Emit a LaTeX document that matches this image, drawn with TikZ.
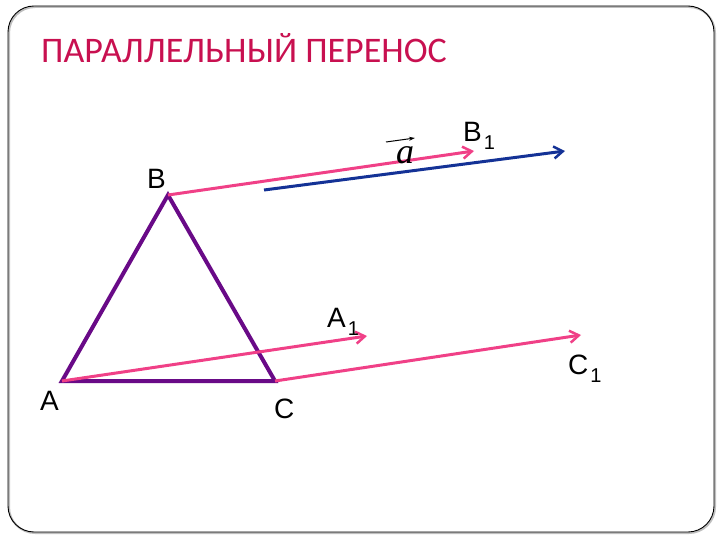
\documentclass[tikz,border=0pt]{standalone}
\usepackage{fontspec}
\setmainfont{Liberation Sans}
\newfontfamily\titlefont{Carlito}
\newfontfamily\serifit{Liberation Serif}
\usetikzlibrary{arrows.meta}
\definecolor{titlecol}{RGB}{200,16,80}
\definecolor{tri}{RGB}{105,10,135}
\definecolor{pinkv}{RGB}{240,64,135}
\definecolor{bluev}{RGB}{20,50,150}
\newcommand{\subone}{\kern2pt\raisebox{-8pt}{\fontsize{20}{20}\selectfont 1}}
\tikzset{
  lbl/.style={inner sep=0pt, font=\fontsize{28}{28}\selectfont},
  transl/.style={pinkv, line width=3pt, -{Straight Barb[length=9pt,width=12pt,line width=2.5pt]}},
}
\begin{document}
\begin{tikzpicture}[x=1pt,y=-1pt]
\useasboundingbox (0,0) rectangle (720,540);
\draw[black!25, line width=2pt, rounded corners=26pt] (9,7) rectangle (715,533);
\draw[black, line width=0.9pt, rounded corners=26pt] (8,6) rectangle (714,532);
\node[anchor=base west, inner sep=0pt, text=titlecol, font=\titlefont\fontsize{36}{36}\selectfont] (title) at (41,63) {ПАРАЛЛЕЛЬНЫЙ ПЕРЕНОС};
% points
\coordinate (A) at (62,381);
\coordinate (B) at (168,195);
\coordinate (C) at (275,381);
\coordinate (A1) at (367,336);
\coordinate (B1) at (474,151);
\coordinate (C1) at (581,335);
\coordinate (v0) at (264,190);
\coordinate (v1) at (565,151);
% triangle
\draw[tri, line width=4pt, line join=miter] (A) -- (B) -- (C) -- cycle;
% translation vectors
\draw[transl] (B) -- (B1);
\draw[transl] (A) -- (A1);
\draw[transl] (C) -- (C1);
% vector a
\draw[bluev, line width=3pt, -{Straight Barb[length=9pt,width=12pt,line width=2.5pt]}] (v0) -- (v1);
\node[inner sep=0pt, font=\serifit\itshape\fontsize{36}{36}\selectfont] (alab) at (405,155) {a};
\coordinate (aa0) at (386,142);
\coordinate (aa1) at (415,138);
\draw[black, line width=1pt, -{Stealth[length=6pt,width=4pt]}] (aa0) -- (aa1);
% labels
\node[lbl, anchor=base west] (Bl) at (147,189) {B};
\node[lbl, anchor=base west] (B1l) at (463,142) {B\subone};
\node[lbl, anchor=base west] (A1l) at (327,327) {A\subone};
\node[lbl, anchor=base west] (C1l) at (568,374) {C\subone};
\node[lbl, anchor=base west] (Al) at (40,410) {A};
\node[lbl, anchor=base west] (Cl) at (274,418) {C};
\end{tikzpicture}
\end{document}
